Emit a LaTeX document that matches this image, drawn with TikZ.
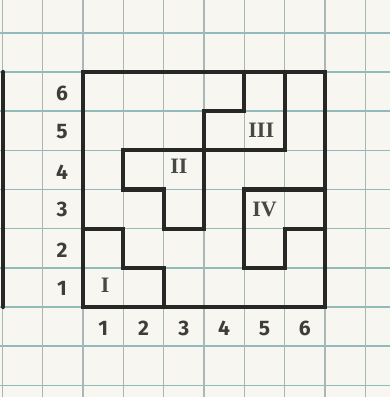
\documentclass[tikz,border=0pt]{standalone}
\usepackage{fontspec}
\setsansfont{Fira Sans}
\newfontfamily\romfont{Liberation Serif}
\definecolor{paper}{HTML}{F7F6F0}
\definecolor{gridh}{HTML}{92BABA}
\definecolor{gridv}{HTML}{A8B8B6}
\definecolor{ink}{HTML}{272725}
\tikzset{
  hline/.style={gridh, line width=1.6pt},
  vline/.style={gridv, line width=1.6pt},
  thick border/.style={ink, line width=4.2pt, line cap=round, line join=miter},
  numlabel/.style={font=\sffamily\bfseries\fontsize{21}{21}\selectfont, text=ink!90, inner sep=0pt},
  romlabel/.style={font=\romfont\bfseries\fontsize{22}{22}\selectfont, text=ink!85, inner sep=0pt}
}
\begin{document}
\begin{tikzpicture}[x=40.33pt,y=-39.17pt]
\useasboundingbox[fill=paper] (-2.058,-1.838) rectangle (7.612,8.297);
% grid
\foreach \j in {-1,...,8} \draw[hline] (-2.058,\j) -- (7.612,\j);
\foreach \i in {-2,...,7} \draw[vline] (\i,-1.838) -- (\i,8.297);
% left edge of neighbouring figure
\draw[thick border] (-1.98,0) -- (-1.98,6);
% outer square
\draw[thick border] (0,0) rectangle (6,6);
% regions III and II
\draw[thick border] (4,0) -- (4,1) -- (3,1) -- (3,4) -- (2,4) -- (2,3) -- (1,3) -- (1,2) -- (5,2) -- (5,0);
% region IV
\draw[thick border] (6,3) -- (4,3) -- (4,5) -- (5,5) -- (5,4) -- (6,4);
% region I
\draw[thick border] (0,4) -- (1,4) -- (1,5) -- (2,5) -- (2,6);
% row numbers
\foreach \r/\j in {6/0.54,5/1.53,4/2.55,3/3.52,2/4.54,1/5.52}
  \node[numlabel] (r\r) at (-0.52,\j) {\r};
% column numbers
\foreach \c in {1,...,6}
  \node[numlabel] (c\c) at (\c-0.5,6.55) {\c};
% region labels
\node[romlabel] (lI) at (0.55,5.45) {I};
\node[romlabel] (lII) at (2.38,2.4) {II};
\node[romlabel] (lIII) at (4.42,1.5) {III};
\node[romlabel] (lIV) at (4.5,3.5) {IV};
\end{tikzpicture}
\end{document}
